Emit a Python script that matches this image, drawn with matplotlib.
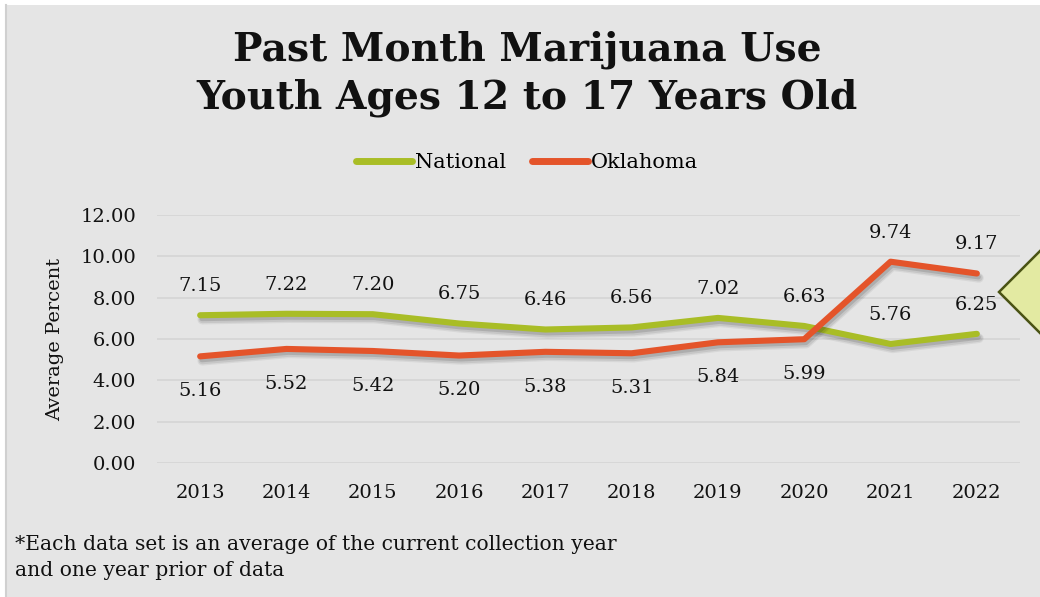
import matplotlib
matplotlib.use("Agg")
import matplotlib.pyplot as plt
import matplotlib.patheffects as pe
from matplotlib.patches import Rectangle, Polygon
from matplotlib.lines import Line2D

# Data
years = ["2013", "2014", "2015", "2016", "2017", "2018", "2019", "2020", "2021", "2022"]
national = [7.15, 7.22, 7.20, 6.75, 6.46, 6.56, 7.02, 6.63, 5.76, 6.25]
oklahoma = [5.16, 5.52, 5.42, 5.20, 5.38, 5.31, 5.84, 5.99, 9.74, 9.17]
y_ticks = [0, 2, 4, 6, 8, 10, 12]

NAT_COLOR = "#a9bd26"
OK_COLOR = "#e4542a"
BG = "#e5e5e5"
GRID = "#d6d6d6"

plt.rcParams["font.family"] = ["DejaVu Serif"]

W, H = 1040, 597
fig = plt.figure(figsize=(W / 100, H / 100), dpi=100, facecolor="white")

# Panel background with thin left border
fig.patches.append(Rectangle((5 / W, 0), 1 - 5 / W, 1 - 5 / H, transform=fig.transFigure,
                             facecolor=BG, edgecolor="none", zorder=0))
fig.lines.append(Line2D([5.5 / W, 5.5 / W], [0, 1 - 5 / H], transform=fig.transFigure,
                        color="#d0d0d0", lw=1.5, zorder=1))

# Decorative diamond at right edge
fig.patches.append(Polygon([(999 / W, 1 - 292 / H), (1041 / W, 1 - 250 / H),
                            (1083 / W, 1 - 292 / H), (1041 / W, 1 - 334 / H)],
                           closed=True, transform=fig.transFigure,
                           facecolor="#e3eaa2", edgecolor="#4a5314", lw=1.8, zorder=5))

ax = fig.add_axes([157 / W, 1 - 463 / H, (1020 - 157) / W, (463 - 215) / H])
ax.set_zorder(2)
ax.set_facecolor("none")
x = list(range(len(years)))

def shadow_effects(lw):
    # soft drop shadow built from a few stacked translucent strokes
    return [
        pe.SimpleLineShadow(offset=(1.5, -3.2), shadow_color="#000000", alpha=0.06, linewidth=lw + 2.5),
        pe.SimpleLineShadow(offset=(1.5, -3.0), shadow_color="#000000", alpha=0.08, linewidth=lw + 1),
        pe.SimpleLineShadow(offset=(1.2, -2.6), shadow_color="#000000", alpha=0.12, linewidth=lw - 1),
        pe.Normal(),
    ]

LW = 4.4
ax.plot(x, national, color=NAT_COLOR, lw=LW, solid_capstyle="round", solid_joinstyle="round",
        path_effects=shadow_effects(LW), zorder=3, label="National")
ax.plot(x, oklahoma, color=OK_COLOR, lw=LW, solid_capstyle="round", solid_joinstyle="round",
        path_effects=shadow_effects(LW), zorder=4, label="Oklahoma")

LABEL_FS = 14
for xi, v in zip(x, national):
    ax.annotate(f"{v:.2f}", (xi, v), xytext=(0, 21), textcoords="offset points",
                ha="center", va="center", fontsize=LABEL_FS, color="#111111")
for xi, v in zip(x, oklahoma):
    dy = 21 if v > 8 else -25
    ax.annotate(f"{v:.2f}", (xi, v), xytext=(0, dy), textcoords="offset points",
                ha="center", va="center", fontsize=LABEL_FS, color="#111111")

ax.set_xlim(-0.5, len(years) - 0.5)
ax.set_ylim(0, 12)
ax.set_yticks(y_ticks)
ax.set_yticklabels([f"{t:.2f}" for t in y_ticks])
ax.set_xticks(x)
ax.set_xticklabels(years)
ax.tick_params(axis="both", length=0, labelsize=14, colors="#111111")
ax.tick_params(axis="y", pad=15)
ax.tick_params(axis="x", pad=15)
ax.grid(axis="y", color=GRID, lw=1.3)
ax.set_axisbelow(True)
for s in ax.spines.values():
    s.set_visible(False)
ax.set_ylabel("Average Percent", fontsize=14, color="#111111", labelpad=12)

leg = fig.legend(handles=ax.get_lines(), labels=["National", "Oklahoma"], loc="center",
                 bbox_to_anchor=(527 / W, 1 - 163 / H), ncol=2, frameon=False,
                 fontsize=15, handlelength=2.7, handletextpad=0.15, columnspacing=1.2)
for h in leg.legend_handles:
    h.set_path_effects([])
    h.set_linewidth(5)
    h.set_solid_capstyle("round")

fig.text(527 / W, 1 - 50 / H, "Past Month Marijuana Use", ha="center", va="center",
         fontsize=28.3, fontweight="bold", color="#111111")
fig.text(527 / W, 1 - 98 / H, "Youth Ages 12 to 17 Years Old", ha="center", va="center",
         fontsize=28.3, fontweight="bold", color="#111111")

fig.text(15 / W, 1 - 545 / H, "*Each data set is an average of the current collection year",
         ha="left", va="center", fontsize=14.6, color="#111111")
fig.text(15 / W, 1 - 571 / H, "and one year prior of data",
         ha="left", va="center", fontsize=14.6, color="#111111")

fig.savefig("out.png", dpi=100, facecolor="white")
